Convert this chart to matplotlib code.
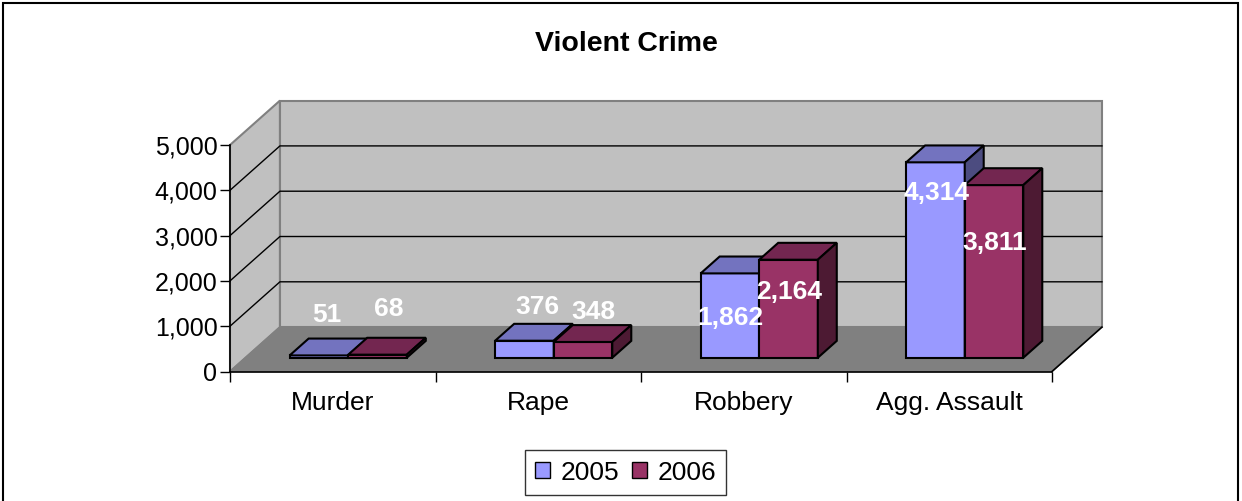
import matplotlib
matplotlib.use('Agg')
import matplotlib.pyplot as plt
from matplotlib.patches import Polygon, Patch, Rectangle
from matplotlib.ticker import FuncFormatter

plt.rcParams['font.family'] = ['Liberation Sans', 'DejaVu Sans']

categories = ['Murder', 'Rape', 'Robbery', 'Agg. Assault']
years = ['2005', '2006']
crimes_2005 = [51, 376, 1862, 4314]
crimes_2006 = [68, 348, 2164, 3811]

# colours: front, top, side
face_2005 = ('#9999FF', '#7373BF', '#4C4C80')
face_2006 = ('#993366', '#732650', '#4D1A33')

# value label nudges in pixels from the top centre of each front face
lab_off_2005 = [(8, 40), (13, 34), (0, -45), (1, -31)]
lab_off_2006 = [(11, 46), (10, 30), (1, -32), (1, -58)]

# depth of the 3d box in data units and bar placement inside it
DX, DY = 0.243, 980
f_front, f_depth = 0.31, 0.38
width = 0.285
ymax = 5000


def draw_bars(ax, xs, vals, colors, offsets, z):
    front, top, side = colors
    ox, oy = f_front * DX, f_front * DY
    dx, dy = f_depth * DX, f_depth * DY
    rects = ax.bar([x + ox for x in xs], vals, width, bottom=oy, align='edge',
                   color=front, edgecolor='black', linewidth=1.5, zorder=z,
                   clip_on=False)
    for x, v, (tx, ty) in zip(xs, vals, offsets):
        x0 = x + ox
        y1 = oy + v
        ax.add_patch(Polygon([(x0, y1), (x0 + width, y1), (x0 + width + dx, y1 + dy),
                              (x0 + dx, y1 + dy)], closed=True, facecolor=top,
                             edgecolor='black', linewidth=1.5, zorder=z, clip_on=False))
        ax.add_patch(Polygon([(x0 + width, oy), (x0 + width + dx, oy + dy),
                              (x0 + width + dx, y1 + dy), (x0 + width, y1)], closed=True,
                             facecolor=side, edgecolor='black', linewidth=1.5, zorder=z,
                             clip_on=False))
        ax.annotate('{:,}'.format(v), xy=(x0 + width / 2, y1), xytext=(tx, ty),
                    textcoords='offset pixels', ha='center', va='center', color='white',
                    fontsize=19, fontweight='bold', zorder=10, annotation_clip=False)
    return rects


def draw_chart():
    fig = plt.figure(figsize=(12.42, 5.01), dpi=100)
    ax = fig.add_axes([230 / 1242, (501 - 371.5) / 501, 822 / 1242, 226.5 / 501])
    ax.set_xlim(0, len(categories))
    ax.set_ylim(0, ymax)
    ax.patch.set_visible(False)
    for s in ('top', 'right'):
        ax.spines[s].set_visible(False)
    ax.spines['left'].set_linewidth(1.2)
    ax.spines['bottom'].set_linewidth(1.2)
    ax.spines['left'].set_zorder(6)
    ax.spines['bottom'].set_zorder(6)

    n = len(categories)
    # walls and floor
    ax.add_patch(Polygon([(0, 0), (DX, DY), (DX, ymax + DY), (0, ymax)], closed=True,
                         facecolor='#C0C0C0', edgecolor='#808080', linewidth=1.5,
                         zorder=0, clip_on=False))
    ax.add_patch(Polygon([(DX, DY), (n + DX, DY), (n + DX, ymax + DY), (DX, ymax + DY)],
                         closed=True, facecolor='#C0C0C0', edgecolor='#808080',
                         linewidth=1.5, zorder=0, clip_on=False))
    ax.add_patch(Polygon([(0, 0), (n, 0), (n + DX, DY), (DX, DY)], closed=True,
                         facecolor='#808080', edgecolor='#808080', linewidth=1,
                         zorder=1, clip_on=False))
    ax.plot([n, n + DX], [0, DY], color='black', lw=1.2, zorder=2, clip_on=False)
    for v in range(1000, ymax, 1000):
        ax.plot([0, DX, n + DX], [v, v + DY, v + DY], color='black', lw=1,
                zorder=1, clip_on=False)

    xs = range(n)
    r05 = draw_bars(ax, [i + 0.5 - width for i in xs], crimes_2005, face_2005,
                    lab_off_2005, 3)
    r06 = draw_bars(ax, [i + 0.5 for i in xs], crimes_2006, face_2006,
                    lab_off_2006, 4)

    ax.set_yticks(range(0, ymax + 1, 1000))
    ax.yaxis.set_major_formatter(FuncFormatter(lambda v, p: '{:,.0f}'.format(v)))
    ax.tick_params(axis='y', length=7, width=1, pad=2, labelsize=18)
    ax.set_xticks(range(n + 1))
    ax.set_xticklabels([])
    ax.set_xticks([i + 0.5 for i in xs], minor=True)
    ax.set_xticklabels(categories, minor=True)
    ax.tick_params(axis='x', which='major', length=7, width=1)
    ax.tick_params(axis='x', which='minor', length=0, pad=14, labelsize=19)

    fig.text(626 / 1242, 1 - 44 / 501, 'Violent Crime', ha='center', va='center',
             fontsize=20.5, fontweight='bold')

    handles = [Patch(facecolor=face_2005[0], edgecolor='black'),
               Patch(facecolor=face_2006[0], edgecolor='black')]
    leg = fig.legend(handles, years, loc='center', bbox_to_anchor=(625.5 / 1242, 1 - 472.5 / 501),
                     ncol=2, fontsize=19, frameon=True, fancybox=False, edgecolor='black',
                     handlelength=0.55, handleheight=0.55, handletextpad=0.4,
                     columnspacing=0.5, borderpad=0.4)
    leg.get_frame().set_linewidth(1)

    fig.add_artist(Rectangle((3 / 1242, -0.1), 1235 / 1242, 1 - 3 / 501 + 0.1,
                             transform=fig.transFigure, fill=False, edgecolor='black',
                             linewidth=1.5))

    plt.savefig('out.png', dpi=100)


if __name__ == '__main__':
    draw_chart()
